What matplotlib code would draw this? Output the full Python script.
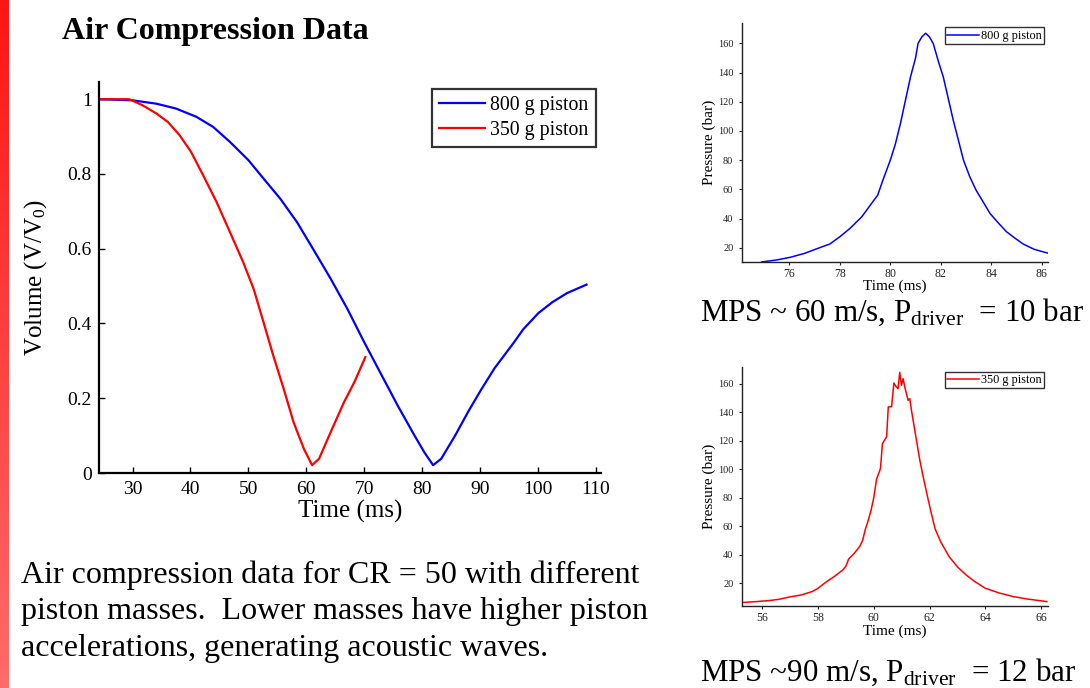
import matplotlib
matplotlib.use("Agg")
import matplotlib.pyplot as plt
import numpy as np

plt.rcParams["font.family"] = ["Liberation Serif", "DejaVu Serif"]
plt.rcParams["mathtext.fontset"] = "custom"
plt.rcParams["mathtext.rm"] = "Liberation Serif"
plt.rcParams["mathtext.it"] = "Liberation Serif:italic"

# volume vs time, main chart
t_800 = [24.2, 30, 34.1, 37.5, 41, 43.9, 46.8, 50, 52.6, 55.5, 58.4, 61.3, 64.2, 67.1, 70,
         72.9, 75.8, 78.7, 80.4, 81.9, 83.3, 85.7, 88, 90.2, 92.5, 95.8, 97.5, 100.1, 102.5,
         105, 108.4]
v_800 = [1.0, 0.997, 0.988, 0.975, 0.953, 0.926, 0.886, 0.837, 0.788, 0.734, 0.671, 0.596,
         0.52, 0.439, 0.35, 0.265, 0.18, 0.1, 0.055, 0.021, 0.038, 0.1, 0.165, 0.223, 0.28,
         0.348, 0.385, 0.428, 0.457, 0.481, 0.504]
t_350 = [24.2, 29.4, 31.7, 34.1, 36.1, 38.1, 40.1, 42.2, 44.5, 46.8, 49.1, 50.9, 52.6, 54.3,
         56.1, 57.8, 59.6, 61, 62.2, 64.2, 66.5, 68.3, 70.2]
v_350 = [1.0, 1.0, 0.984, 0.962, 0.939, 0.904, 0.859, 0.796, 0.725, 0.645, 0.564, 0.493,
         0.404, 0.314, 0.225, 0.136, 0.064, 0.021, 0.038, 0.109, 0.189, 0.243, 0.31]

# pressure traces
pt_800 = [74.9, 75.5, 76.03, 76.6, 77.2, 77.6, 78.0, 78.4, 78.87, 79.2, 79.5, 79.7, 80.0,
          80.2, 80.4, 80.6, 80.8, 81.0, 81.1, 81.25, 81.4, 81.55, 81.7, 81.9, 82.1, 82.3,
          82.5, 82.7, 82.9, 83.15, 83.4, 83.7, 83.95, 84.3, 84.6, 84.95, 85.27, 85.7, 86.3]
p_800 = [10.2, 11.6, 13.4, 16.1, 20, 22.5, 27.5, 33.2, 41.2, 49, 56, 66, 80, 91, 105, 121,
         137, 150, 160, 164.5, 167, 164.5, 160, 148, 137, 122, 107, 93.6, 80, 68.6, 59.4,
         50.8, 43.5, 36.6, 31, 26.4, 22.5, 18.9, 16]
pt_350 = [55.27, 55.8, 56.3, 56.6, 57, 57.4, 57.8, 58, 58.3, 58.6, 58.9, 59.0, 59.1, 59.3,
          59.5, 59.6, 59.7, 59.8, 59.9, 60.0, 60.1, 60.24, 60.31, 60.46, 60.52, 60.64, 60.72,
          60.81, 60.87, 60.93, 60.99, 61.05, 61.11, 61.17, 61.23, 61.29, 61.35, 61.47, 61.65,
          61.77, 61.9, 62.05, 62.2, 62.4, 62.7, 63.0, 63.3, 63.6, 64, 64.5, 65, 65.5, 66.2]
p_350 = [6.5, 7.2, 8, 8.8, 10.5, 11.8, 14.3, 16.5, 21, 25, 29.5, 32, 37, 41, 46, 50, 58, 64,
         71, 80, 93, 100.5, 118, 122.7, 143.7, 144, 160.5, 157.7, 156.5, 168, 158.8, 163.5,
         157.7, 153, 148.3, 149.5, 141.3, 127.3, 106.3, 94.7, 83, 70, 58, 49, 38.7, 31.5,
         26, 21.5, 16.5, 13.2, 10.7, 9, 7.2]

main_xticks = [30, 40, 50, 60, 70, 80, 90, 100, 110]
main_yticks = [0, 0.2, 0.4, 0.6, 0.8, 1]
main_ylabels = ["0", "0.2", "0.4", "0.6", "0.8", "1"]
p_yticks = [20, 40, 60, 80, 100, 120, 140, 160]

W, H = 1090, 688
fig = plt.figure(figsize=(W / 100, H / 100), dpi=100)

# red bar on left edge
bar = fig.add_axes([0, 0, 9 / W, 1])
grad = np.linspace(0, 1, 256)[:, None, None]
top = np.array([1.0, 0.08, 0.08])
bot = np.array([1.0, 0.42, 0.42])
bar.imshow(top + (bot - top) * grad, aspect="auto")
bar.axis("off")

fig.text(62 / W, 1 - 39 / H, "Air Compression Data", fontsize=23, fontweight="bold",
         va="baseline", ha="left")

# main chart
ax = fig.add_axes([98.6 / W, 1 - 473 / H, 502.4 / W, 391 / H])
ax.plot(t_800, v_800, color="#0000ff", lw=1.6, label="800 g piston")
ax.plot(t_350, v_350, color="#ff0000", lw=1.6, label="350 g piston")
ax.set_xlim(24.13, 110.9)
ax.set_ylim(0, 1.046)
ax.set_xticks(main_xticks)
ax.set_yticks(main_yticks)
ax.set_yticklabels(main_ylabels)
ax.spines["top"].set_visible(False)
ax.spines["right"].set_visible(False)
ax.spines["left"].set_linewidth(1.6)
ax.spines["bottom"].set_linewidth(1.6)
ax.tick_params(direction="in", length=4, width=1, labelsize=14)
ax.tick_params(axis="x", pad=6)
ax.tick_params(axis="y", pad=5)
ax.set_xlabel("Time (ms)", fontsize=18, labelpad=1)
ax.set_ylabel(r"Volume (V/V$_0$)", fontsize=18)
ax.yaxis.set_label_coords(-0.098, 0.5)
leg = ax.legend(loc="upper right", bbox_to_anchor=(1 - 5.3 / 502.4, 1 - 7 / 391),
                fontsize=14.3, frameon=True, fancybox=False, edgecolor="black",
                handlelength=2.3, handletextpad=0.3, borderpad=0.35, labelspacing=0.3,
                borderaxespad=0)
leg.get_frame().set_linewidth(1.6)


def pressure_axes(rect, t, p, color, label, xticks, xlim, ylim):
    a = fig.add_axes(rect)
    a.plot(t, p, color=color, lw=1.1, label=label)
    a.set_xlim(*xlim)
    a.set_ylim(*ylim)
    a.set_xticks(xticks)
    a.set_yticks(p_yticks)
    a.spines["top"].set_visible(False)
    a.spines["right"].set_visible(False)
    for s in ("left", "bottom"):
        a.spines[s].set_linewidth(1.0)
        a.spines[s].set_color("#222222")
    a.tick_params(direction="out", length=2.5, width=0.8, colors="#222222")
    a.tick_params(axis="x", labelsize=8.5, pad=2)
    a.tick_params(axis="y", labelsize=7.5)
    a.set_xlabel("Time (ms)", fontsize=11, labelpad=0)
    a.set_ylabel("Pressure (bar)", fontsize=11, labelpad=1)
    lg = a.legend(loc="upper right", bbox_to_anchor=(1 - 4 / 306.3, 1 - 4.5 / 239),
                  fontsize=8.8, frameon=True, fancybox=False, edgecolor="black",
                  handlelength=2.6, handletextpad=0.15, borderpad=0.2, borderaxespad=0)
    lg.get_frame().set_linewidth(1.0)
    return a


pressure_axes([741.7 / W, 1 - 261.7 / H, 306.3 / W, 238.7 / H], pt_800, p_800, "#0000ff",
              "800 g piston", [76, 78, 80, 82, 84, 86], (74.11, 86.25), (10.4, 174))
pressure_axes([741.7 / W, 1 - 606 / H, 306.3 / W, 239 / H], pt_350, p_350, "#ff0000",
              "350 g piston", [56, 58, 60, 62, 64, 66], (55.27, 66.24), (4.1, 171.7))

fig.text(700 / W, 1 - 321 / H, r"MPS ~ 60 m/s, P$_{\mathrm{driver}}$  = 10 bar",
         fontsize=22.3, va="baseline", ha="left")
fig.text(700 / W, 1 - 681 / H, r"MPS ~90 m/s, P$_{\mathrm{driver}}$  = 12 bar",
         fontsize=22.3, va="baseline", ha="left")

para = ["Air compression data for CR = 50 with different",
        "piston masses.  Lower masses have higher piston",
        "accelerations, generating acoustic waves."]
for i, line in enumerate(para):
    fig.text(21 / W, 1 - (583 + 36.5 * i) / H, line, fontsize=23, va="baseline", ha="left")

fig.savefig("out.png", dpi=100)
